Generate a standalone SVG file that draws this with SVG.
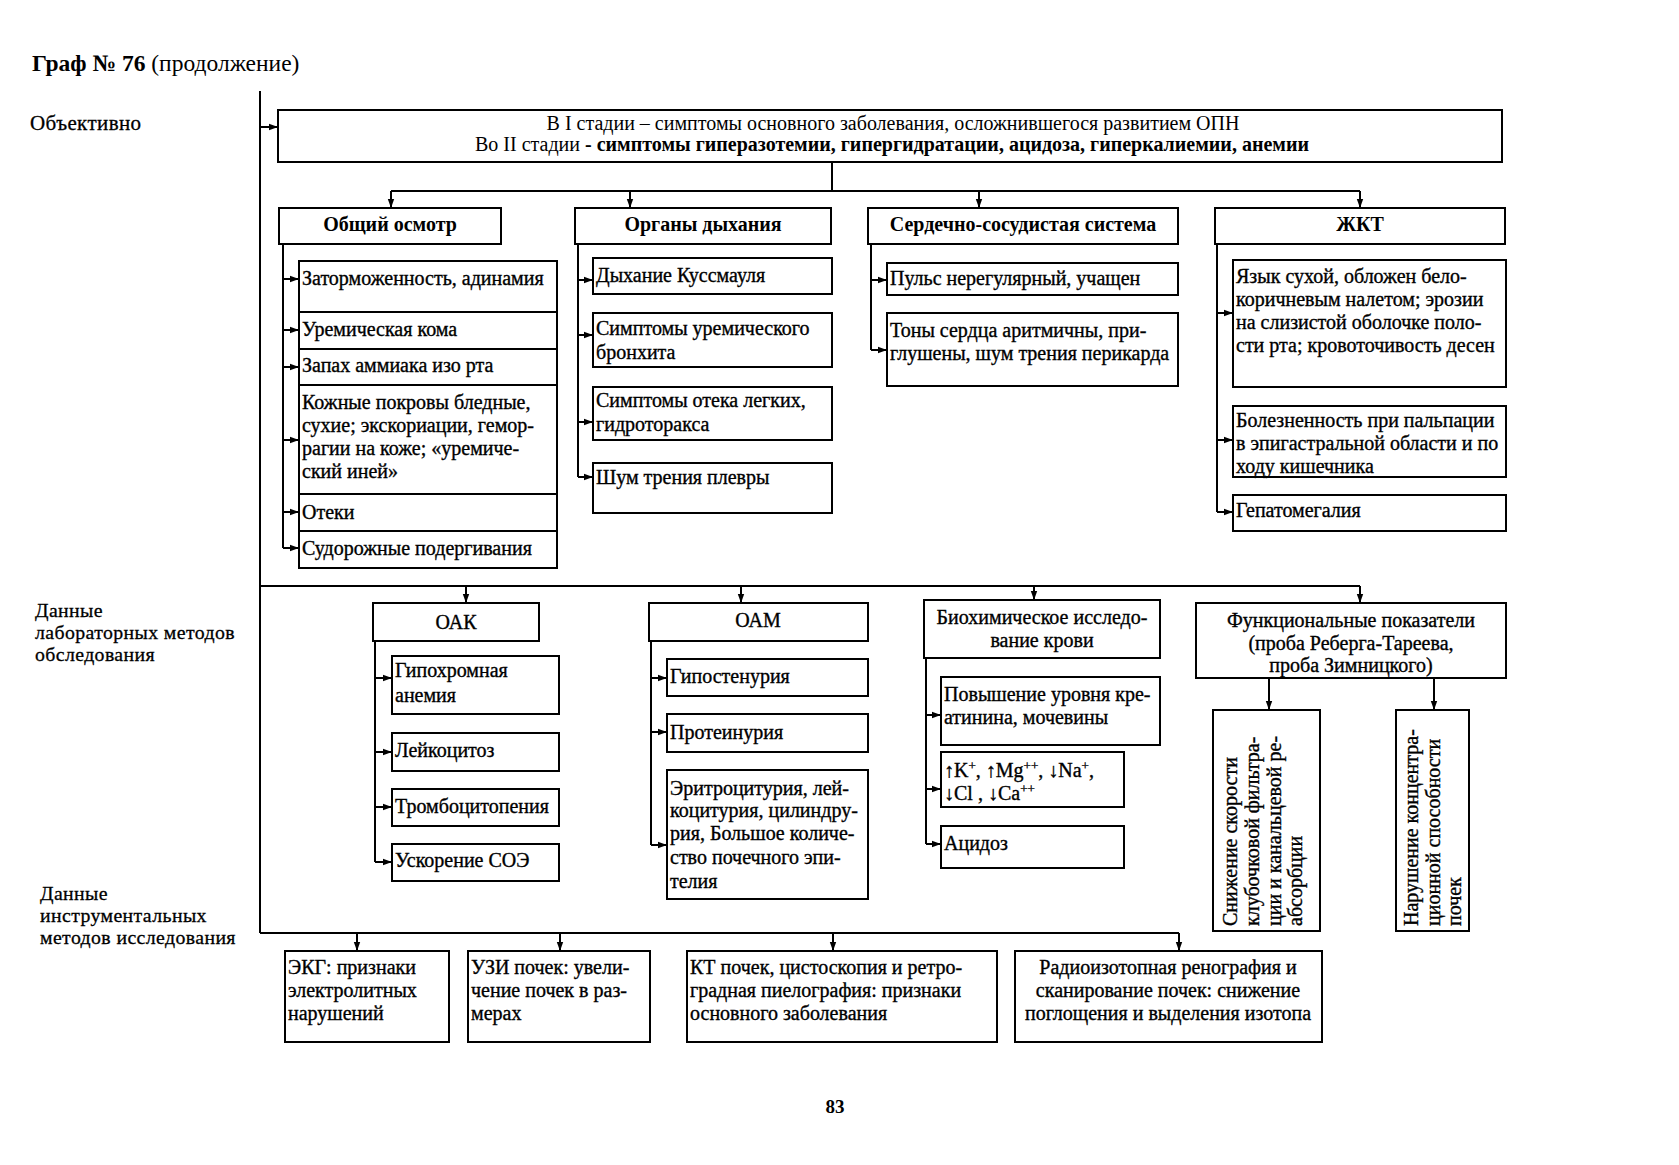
<svg xmlns="http://www.w3.org/2000/svg" width="1679" height="1165" viewBox="0 0 1679 1165">
<style>
.bg{fill:#fff}
.box{fill:#fff;stroke:#000;stroke-width:2}
.c{fill:none;stroke:#000;stroke-width:2}
text{font-family:"Liberation Serif","Times New Roman",serif;font-size:20px;fill:#000}
.b{font-weight:bold}
.m{stroke:#000;stroke-width:0.35}
.mid{text-anchor:middle}
.h{font-weight:bold;font-size:20px}
.lbl{font-size:19.8px;letter-spacing:0.4px;stroke:#000;stroke-width:0.3}
</style>
<defs>
<marker id="ah" markerWidth="9" markerHeight="8" refX="9" refY="4" orient="auto" markerUnits="userSpaceOnUse">
<path d="M0,0.8 L9,4 L0,7.2 z" fill="#000"/>
</marker>
</defs>
<rect class="bg" x="0" y="0" width="1679" height="1165"/>

<g id="title">
<text x="32" y="71" style="font-size:23.5px"><tspan class="b">Граф № 76</tspan> (продолжение)</text>
</g>
<g id="side-labels">
<text x="30" y="130" class="lbl" style="font-size:21px">Объективно</text>
<text x="35" y="617" class="lbl">Данные</text>
<text x="35" y="639" class="lbl">лабораторных методов</text>
<text x="35" y="661" class="lbl">обследования</text>
<text x="40" y="900" class="lbl">Данные</text>
<text x="40" y="922" class="lbl">инструментальных</text>
<text x="40" y="944" class="lbl">методов исследования</text>
</g>

<g id="connectors">
<path class="c" d="M260,91 V933"/>
<path class="c" d="M260,127 H278" marker-end="url(#ah)"/>
<path class="c" d="M832,162 V191 M391,191 H1360"/>
<path class="c" d="M391,191 V208" marker-end="url(#ah)"/>
<path class="c" d="M630,191 V208" marker-end="url(#ah)"/>
<path class="c" d="M979,191 V208" marker-end="url(#ah)"/>
<path class="c" d="M1360,191 V208" marker-end="url(#ah)"/>
<path class="c" d="M283,244 V548"/>
<path class="c" d="M283,279 H299" marker-end="url(#ah)"/>
<path class="c" d="M283,330 H299" marker-end="url(#ah)"/>
<path class="c" d="M283,367 H299" marker-end="url(#ah)"/>
<path class="c" d="M283,440 H299" marker-end="url(#ah)"/>
<path class="c" d="M283,512 H299" marker-end="url(#ah)"/>
<path class="c" d="M283,548 H299" marker-end="url(#ah)"/>
<path class="c" d="M578,244 V477"/>
<path class="c" d="M578,280 H593" marker-end="url(#ah)"/>
<path class="c" d="M578,335 H593" marker-end="url(#ah)"/>
<path class="c" d="M578,422 H593" marker-end="url(#ah)"/>
<path class="c" d="M578,477 H593" marker-end="url(#ah)"/>
<path class="c" d="M871,244 V350"/>
<path class="c" d="M871,280 H887" marker-end="url(#ah)"/>
<path class="c" d="M871,350 H887" marker-end="url(#ah)"/>
<path class="c" d="M1217,244 V512"/>
<path class="c" d="M1217,313 H1233" marker-end="url(#ah)"/>
<path class="c" d="M1217,440 H1233" marker-end="url(#ah)"/>
<path class="c" d="M1217,512 H1233" marker-end="url(#ah)"/>
<path class="c" d="M260,586 H1360"/>
<path class="c" d="M466,586 V603" marker-end="url(#ah)"/>
<path class="c" d="M741,586 V603" marker-end="url(#ah)"/>
<path class="c" d="M1034,586 V600" marker-end="url(#ah)"/>
<path class="c" d="M1360,586 V603" marker-end="url(#ah)"/>
<path class="c" d="M375,641 V862"/>
<path class="c" d="M375,678 H392" marker-end="url(#ah)"/>
<path class="c" d="M375,752 H392" marker-end="url(#ah)"/>
<path class="c" d="M375,807 H392" marker-end="url(#ah)"/>
<path class="c" d="M375,862 H392" marker-end="url(#ah)"/>
<path class="c" d="M651,641 V845"/>
<path class="c" d="M651,678 H667" marker-end="url(#ah)"/>
<path class="c" d="M651,732 H667" marker-end="url(#ah)"/>
<path class="c" d="M651,845 H667" marker-end="url(#ah)"/>
<path class="c" d="M926,658 V844"/>
<path class="c" d="M926,715 H941" marker-end="url(#ah)"/>
<path class="c" d="M926,789 H941" marker-end="url(#ah)"/>
<path class="c" d="M926,844 H941" marker-end="url(#ah)"/>
<path class="c" d="M1269,678 V710" marker-end="url(#ah)"/>
<path class="c" d="M1434,678 V710" marker-end="url(#ah)"/>
<path class="c" d="M260,933 H1179"/>
<path class="c" d="M357,933 V951" marker-end="url(#ah)"/>
<path class="c" d="M560,933 V951" marker-end="url(#ah)"/>
<path class="c" d="M833,933 V951" marker-end="url(#ah)"/>
<path class="c" d="M1179,933 V951" marker-end="url(#ah)"/>
</g>

<g id="n-top">
<rect class="box" x="278" y="110" width="1224" height="52"/>
<text x="893" y="130" class="mid">В I стадии – симптомы основного заболевания, осложнившегося развитием ОПН</text>
<text x="892" y="151" class="mid">Во II стадии  <tspan class="b">- симптомы гиперазотемии, гипергидратации, ацидоза, гиперкалиемии, анемии</tspan></text>
</g>

<g id="n-obsh">
<rect class="box" x="279" y="208" width="222" height="36"/>
<text x="390" y="231" class="h mid">Общий осмотр</text>
</g>
<g id="n-obsh-items" class="m">
<rect class="box" x="299" y="261" width="258" height="51"/>
<text x="302" y="285">Заторможенность, адинамия</text>
<rect class="box" x="299" y="312" width="258" height="37"/>
<text x="302" y="336">Уремическая кома</text>
<rect class="box" x="299" y="349" width="258" height="36"/>
<text x="302" y="372">Запах аммиака изо рта</text>
<rect class="box" x="299" y="385" width="258" height="109"/>
<text x="302" y="409">Кожные покровы бледные,</text>
<text x="302" y="432">сухие; экскориации, гемор-</text>
<text x="302" y="455">рагии на коже; «уремиче-</text>
<text x="302" y="478">ский иней»</text>
<rect class="box" x="299" y="494" width="258" height="37"/>
<text x="302" y="519">Отеки</text>
<rect class="box" x="299" y="531" width="258" height="37"/>
<text x="302" y="555">Судорожные подергивания</text>
</g>

<g id="n-dyh">
<rect class="box" x="575" y="208" width="256" height="36"/>
<text x="703" y="231" class="h mid">Органы дыхания</text>
</g>
<g id="n-dyh-items" class="m">
<rect class="box" x="593" y="258" width="239" height="36"/>
<text x="596" y="282">Дыхание Куссмауля</text>
<rect class="box" x="593" y="313" width="239" height="54"/>
<text x="596" y="335">Симптомы уремического</text>
<text x="596" y="359">бронхита</text>
<rect class="box" x="593" y="387" width="239" height="53"/>
<text x="596" y="407">Симптомы отека легких,</text>
<text x="596" y="431">гидроторакса</text>
<rect class="box" x="593" y="463" width="239" height="50"/>
<text x="596" y="484">Шум трения плевры</text>
</g>

<g id="n-sss">
<rect class="box" x="868" y="208" width="310" height="36"/>
<text x="1023" y="231" class="h mid">Сердечно-сосудистая система</text>
</g>
<g id="n-sss-items" class="m">
<rect class="box" x="887" y="263" width="291" height="32"/>
<text x="890" y="285">Пульс нерегулярный, учащен</text>
<rect class="box" x="887" y="313" width="291" height="73"/>
<text x="890" y="337">Тоны сердца аритмичны, при-</text>
<text x="890" y="360">глушены, шум трения перикарда</text>
</g>

<g id="n-zhkt">
<rect class="box" x="1215" y="208" width="290" height="36"/>
<text x="1360" y="231" class="h mid">ЖКТ</text>
</g>
<g id="n-zhkt-items" class="m">
<rect class="box" x="1233" y="260" width="273" height="127"/>
<text x="1236" y="283">Язык сухой, обложен бело-</text>
<text x="1236" y="306">коричневым налетом; эрозии</text>
<text x="1236" y="329">на слизистой оболочке поло-</text>
<text x="1236" y="352">сти рта; кровоточивость десен</text>
<rect class="box" x="1233" y="406" width="273" height="71"/>
<text x="1236" y="427">Болезненность при пальпации</text>
<text x="1236" y="450">в эпигастральной области и по</text>
<text x="1236" y="473">ходу кишечника</text>
<rect class="box" x="1233" y="495" width="273" height="36"/>
<text x="1236" y="517">Гепатомегалия</text>
</g>

<g id="n-oak" class="m">
<rect class="box" x="373" y="603" width="166" height="38"/>
<text x="456" y="629" class="mid">ОАК</text>
<rect class="box" x="392" y="656" width="167" height="58"/>
<text x="395" y="677">Гипохромная</text>
<text x="395" y="702">анемия</text>
<rect class="box" x="392" y="733" width="167" height="38"/>
<text x="395" y="757">Лейкоцитоз</text>
<rect class="box" x="392" y="789" width="167" height="37"/>
<text x="395" y="813">Тромбоцитопения</text>
<rect class="box" x="392" y="844" width="167" height="37"/>
<text x="395" y="867">Ускорение СОЭ</text>
</g>

<g id="n-oam" class="m">
<rect class="box" x="649" y="603" width="219" height="38"/>
<text x="758" y="627" class="mid">ОАМ</text>
<rect class="box" x="667" y="659" width="201" height="37"/>
<text x="670" y="683">Гипостенурия</text>
<rect class="box" x="667" y="714" width="201" height="38"/>
<text x="670" y="739">Протеинурия</text>
<rect class="box" x="667" y="770" width="201" height="129"/>
<text x="670" y="795">Эритроцитурия, лей-</text>
<text x="670" y="817">коцитурия, цилиндру-</text>
<text x="670" y="840">рия, Большое количе-</text>
<text x="670" y="864">ство почечного эпи-</text>
<text x="670" y="888">телия</text>
</g>

<g id="n-bio" class="m">
<rect class="box" x="924" y="600" width="236" height="58"/>
<text x="1042" y="624" class="mid">Биохимическое  исследо-</text>
<text x="1042" y="647" class="mid">вание крови</text>
<rect class="box" x="941" y="677" width="219" height="68"/>
<text x="944" y="701">Повышение уровня кре-</text>
<text x="944" y="724">атинина, мочевины</text>
<rect class="box" x="941" y="752" width="183" height="55"/>
<text x="944" y="777">↑K<tspan baseline-shift="super" font-size="13">+</tspan>, ↑Mg<tspan baseline-shift="super" font-size="13">++</tspan>, ↓Na<tspan baseline-shift="super" font-size="13">+</tspan>,</text>
<text x="944" y="800">↓Cl , ↓Ca<tspan baseline-shift="super" font-size="13">++</tspan></text>
<rect class="box" x="941" y="826" width="183" height="42"/>
<text x="944" y="850">Ацидоз</text>
</g>

<g id="n-func" class="m">
<rect class="box" x="1196" y="603" width="310" height="75"/>
<text x="1351" y="627" class="mid">Функциональные показатели</text>
<text x="1351" y="650" class="mid">(проба Реберга-Тареева,</text>
<text x="1351" y="672" class="mid">проба Зимницкого)</text>
<rect class="box" x="1213" y="710" width="107" height="221"/>
<text transform="translate(1237,926) rotate(-90)">Снижение скорости</text>
<text transform="translate(1259,926) rotate(-90)">клубочковой фильтра-</text>
<text transform="translate(1281,926) rotate(-90)">ции и канальцевой ре-</text>
<text transform="translate(1302,926) rotate(-90)">абсорбции</text>
<rect class="box" x="1396" y="710" width="73" height="221"/>
<text transform="translate(1418,926) rotate(-90)">Нарушение концентра-</text>
<text transform="translate(1440,926) rotate(-90)">ционной способности</text>
<text transform="translate(1461,926) rotate(-90)">почек</text>
</g>

<g id="n-ekg" class="m">
<rect class="box" x="285" y="951" width="164" height="91"/>
<text x="288" y="974">ЭКГ: признаки</text>
<text x="288" y="997">электролитных</text>
<text x="288" y="1020">нарушений</text>
</g>
<g id="n-uzi" class="m">
<rect class="box" x="468" y="951" width="182" height="91"/>
<text x="471" y="974">УЗИ почек: увели-</text>
<text x="471" y="997">чение почек в раз-</text>
<text x="471" y="1020">мерах</text>
</g>
<g id="n-kt" class="m">
<rect class="box" x="687" y="951" width="310" height="91"/>
<text x="690" y="974">КТ почек, цистоскопия и ретро-</text>
<text x="690" y="997">градная пиелография: признаки</text>
<text x="690" y="1020">основного заболевания</text>
</g>
<g id="n-radio" class="m">
<rect class="box" x="1015" y="951" width="307" height="91"/>
<text x="1168" y="974" class="mid">Радиоизотопная ренография и</text>
<text x="1168" y="997" class="mid">сканирование почек: снижение</text>
<text x="1168" y="1020" class="mid">поглощения и выделения изотопа</text>
</g>

<g id="page">
<text x="835" y="1113" class="mid b" style="font-size:19px">83</text>
</g>
</svg>
